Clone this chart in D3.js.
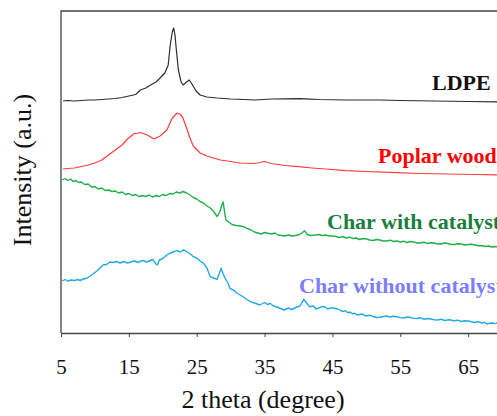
<!DOCTYPE html>
<html>
<head>
<meta charset="utf-8">
<script src="https://cdn.jsdelivr.net/npm/d3@7"></script>
<style>
  html, body { margin: 0; padding: 0; background: #fff; overflow: hidden; }
  svg { display: block; font-family: "Liberation Serif", "Times New Roman", serif; }
</style>
</head>
<body>
<svg id="chart" width="497" height="416"></svg>
<script>
// ---- Data (2θ in degrees, intensity in arbitrary units) ----
const xTicks = [5, 15, 25, 35, 45, 55, 65];
const seriesNames = ["LDPE", "Poplar wood", "Char with catalyst", "Char without catalyst"];

const ldpe = [[5.3,232],[6,232.5],[7,232],[8,232.5],[9,233],[10,233],[11,233.5],[12,234],[13,234.5],[14,235.5],[15,237],[16,238.5],[16.7,243],[17.5,245],[18.2,248],[19,251],[19.6,255],[20.3,260],[20.8,268],[21.1,288],[21.4,301],[21.6,305],[21.8,298],[22,283],[22.3,263],[22.7,251],[23,248],[23.5,251],[23.9,253],[24.3,249],[24.9,242],[25.5,238],[26.5,236],[28,235],[29,234.5],[30,234],[32,233.5],[33.6,233],[36.1,234],[38,234.2],[40.2,234.3],[41,234.2],[43,233.5],[47,233],[52,233],[55,232.5],[60,232],[65,231.5],[70,231],[75,231]];

const poplar = [[5.3,164],[6,164.5],[7,165],[8,166.5],[9,168],[10,170],[11,173],[12,178],[13,183],[14,188],[14.8,194],[15.7,199],[16.7,200.5],[17.7,198],[18.7,194],[19.6,197],[20.6,203],[21.0,209],[21.4,215],[22.1,220],[22.5,219],[22.9,216],[23.3,209],[23.6,203],[24.0,195],[24.5,187],[25.5,180],[26.5,177],[27.5,175],[28.5,173],[29.5,172],[31.4,170],[33,169.5],[34,170],[35,171.5],[36,169.5],[38,167.5],[40,166.3],[42,165],[44,164],[47,162.3],[50,161.5],[54.5,160.3],[58,159.5],[62,159],[66,158.5],[70,158],[75,157.5]];

const charWith = [[5.2,153],[5.6,154.5],[6,152.5],[6.4,154],[6.8,151.5],[7.2,152.5],[7.6,150.5],[8,151],[8.5,148.5],[9,149],[9.5,146],[10,146.5],[10.5,144],[11,145],[11.5,142.5],[12,143],[12.5,141.5],[13,142],[13.5,140],[14,141],[14.5,138.5],[15,139.5],[15.5,137.5],[16,138.5],[16.5,136.5],[17,137.5],[17.5,136.5],[18,138],[18.5,136],[19,137.5],[19.5,136.5],[20,138.5],[20.5,137.5],[21,139.5],[21.5,139],[22,141],[22.5,140],[23,141.5],[23.5,140],[24,138],[24.5,135.5],[25,134],[25.5,131.5],[26,130],[26.5,127],[27,125],[27.5,121.5],[28,116.5],[28.4,121],[28.7,128],[28.9,131],[29.1,121],[29.3,113],[29.7,111],[30.2,108.5],[30.8,107.5],[31.4,107],[31.9,106.3],[32.4,104.7],[33,103],[33.5,101],[34,100],[34.5,99],[35,100.5],[35.5,99.7],[36,99],[36.5,100],[37,98],[37.5,97.5],[38,97],[38.5,98],[39,97],[39.5,97.5],[40,98],[40.5,100],[40.9,102.3],[41.3,98.5],[41.8,97.5],[42.5,98],[43,98.5],[43.5,97.5],[44,98],[44.5,97],[45,97],[45.5,96.5],[46,95.5],[46.5,96.5],[47,95],[47.5,95.8],[48,94.5],[48.5,95],[49,93.5],[49.5,94.5],[50,94],[50.5,93],[51,92.5],[51.5,93.5],[52,93],[52.5,92],[53,92],[53.5,92.8],[54,91.5],[54.5,92],[55,91],[55.5,91.8],[56,90.5],[56.5,91.5],[57,91],[57.5,90],[58,90],[58.5,90.8],[59,89.5],[59.5,90.3],[60,90],[60.5,89],[61,89],[61.5,90],[62,89.5],[62.5,88.5],[63,88.5],[63.5,89.3],[64,89],[64.5,88],[65,88.5],[65.5,88.8],[66,88],[66.5,87.2],[67,87.5],[67.5,86.5],[68,87],[68.5,86],[69,86.5],[69.5,85.8],[70,86],[72,85.5],[75,85]];

const charWithout = [[5.2,52],[5.6,53.5],[6,52],[6.5,53],[7,52.5],[7.5,53.5],[7.8,52.5],[8.3,54],[8.9,55],[9.3,57],[9.8,59.5],[10.3,62],[10.8,65.5],[11.2,68],[11.7,68.5],[12.2,71],[12.7,70.5],[13.2,71.5],[13.7,70],[14.2,71.5],[14.8,70],[15.3,71],[15.8,72],[16.3,70.5],[16.8,72],[17.1,72.5],[17.6,71],[18,72],[18.5,73.5],[19,69],[19.2,68],[19.5,73],[20,74.5],[20.6,78],[21,79.5],[21.5,81],[22.1,82.3],[22.6,81],[23,83],[23.3,82.3],[23.7,80.5],[24.1,79],[24.5,76.3],[25,75],[25.5,72],[26,69.7],[26.5,65],[27,56.3],[27.5,55],[28,53.7],[28.3,59],[28.6,64.7],[28.9,59],[29.2,54.7],[29.6,50],[29.9,44.7],[30.4,43],[30.9,40],[31.4,38],[31.9,36],[32.4,33.5],[32.9,31.3],[33.5,30],[34.3,28],[35,30.5],[35.4,28.5],[35.8,29.7],[36.3,27],[37,25.5],[37.9,23],[38.5,25],[39,23.5],[39.6,25.5],[40.2,27],[40.8,33.7],[41.2,30],[41.6,26.3],[42.2,27],[42.6,24],[43.2,25.7],[43.8,26.5],[44.3,24],[44.8,25.2],[45.3,24.7],[45.8,24],[46.2,22.5],[46.5,21.5],[46.9,22.3],[47.2,20.5],[47.6,20.8],[48,19],[48.3,19.8],[48.6,18],[49.3,19],[49.7,17.8],[50,17],[50.5,17.8],[51,16.5],[51.5,15.5],[52,15.7],[52.5,16.5],[53,17],[53.5,16],[54,16.8],[54.5,16.3],[55,15.4],[55.5,15],[56,16],[56.5,15.5],[57,14.6],[57.5,14.5],[58,15.2],[58.5,13.7],[59,14.5],[59.5,14],[60,13.2],[60.5,13],[61,13.8],[61.5,12.5],[62.2,13.2],[62.9,12.3],[63.5,12.8],[64,11.5],[64.5,12.3],[65,12],[65.5,11.2],[66,10.5],[66.5,11.3],[67,10],[67.4,10.6],[67.8,9],[68.2,9.8],[68.5,10],[69,9.4],[69.3,10.3],[70,9.5],[72,9],[75,8.5]];

// ---- Layout & styles ----
const svg = d3.select("#chart");
const mLeft = 61, mTop = 11, mBottom = 333, mRight = 536;
const x = d3.scaleLinear().domain([5, 75]).range([mLeft, mRight]);
const y = d3.scaleLinear().domain([0, 322]).range([mBottom, mTop]);

const series = [
  { name: seriesNames[0], data: ldpe,        line: "#2e2e2e", text: "#111111", lx: 432, ly: 90,  w: 1.2 },
  { name: seriesNames[1], data: poplar,      line: "#ff3b3b", text: "#ff0000", lx: 378, ly: 163, w: 1.2 },
  { name: seriesNames[2], data: charWith,    line: "#1fb04b", text: "#1b7d3e", lx: 327, ly: 229, w: 1.4 },
  { name: seriesNames[3], data: charWithout, line: "#22a9e6", text: "#7d7dff", lx: 299, ly: 293, w: 1.4 }
];

svg.append("defs").append("clipPath").attr("id", "clip")
  .append("rect").attr("x", mLeft).attr("y", mTop).attr("width", mRight - mLeft).attr("height", mBottom - mTop);

// frame
svg.append("path")
  .attr("d", `M${mLeft},${mBottom}V${mTop}H${mRight}`)
  .attr("fill", "none").attr("stroke", "#444").attr("stroke-width", 1.3);

// x axis
const xAxis = d3.axisBottom(x).tickValues(xTicks).tickSizeInner(4).tickSizeOuter(0).tickPadding(22);
const gx = svg.append("g").attr("transform", `translate(0,${mBottom})`).call(xAxis);
gx.attr("font-family", null);
gx.select(".domain").attr("stroke", "#444").attr("stroke-width", 1.3);
gx.selectAll(".tick line").attr("stroke", "#444").attr("stroke-width", 1);
gx.selectAll(".tick text").attr("font-size", 21).attr("fill", "#111")
  .attr("font-family", "'Liberation Serif', 'Times New Roman', serif");

// lines
const line = d3.line().x(d => x(d[0])).y(d => y(d[1]));
const gl = svg.append("g").attr("clip-path", "url(#clip)");
series.forEach(s => {
  gl.append("path").datum(s.data)
    .attr("d", line)
    .attr("fill", "none")
    .attr("stroke", s.line)
    .attr("stroke-width", s.w)
    .attr("stroke-linejoin", "round");
});

// series labels
series.forEach(s => {
  svg.append("text")
    .attr("x", s.lx).attr("y", s.ly)
    .attr("font-size", 22).attr("font-weight", "bold")
    .attr("fill", s.text)
    .text(s.name);
});

// axis titles
svg.append("text")
  .attr("x", 263).attr("y", 408)
  .attr("text-anchor", "middle").attr("font-size", 26).attr("fill", "#111")
  .text("2 theta (degree)");

svg.append("text")
  .attr("transform", "translate(31,170) rotate(-90)")
  .attr("text-anchor", "middle").attr("font-size", 26).attr("fill", "#111")
  .text("Intensity (a.u.)");
</script>
</body>
</html>
